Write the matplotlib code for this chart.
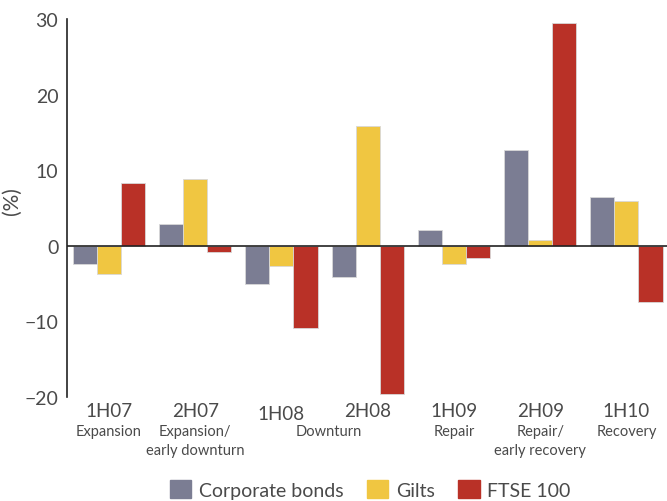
import numpy as np
import matplotlib.pyplot as plt
from matplotlib.patches import Patch

plt.rcParams['font.family'] = ['Lato', 'DejaVu Sans']

periods = ['1H07', '2H07', '1H08', '2H08', '1H09', '2H09', '1H10']
phases = ['Expansion', 'Expansion/\nearly downturn', '', '', 'Repair', 'Repair/\nearly recovery', 'Recovery']
corp_bonds = [-2.5, 2.9, -5.1, -4.2, 2.0, 12.6, 6.4]
gilts = [-3.8, 8.8, -2.7, 15.9, -2.5, 0.7, 5.9]
ftse = [8.3, -0.8, -10.9, -19.7, -1.6, 29.5, -7.5]

c_grey = '#7b7d93'
c_yellow = '#f0c641'
c_red = '#b93127'
txt = '#4a4a4a'

fig = plt.figure(figsize=(6.67, 5.02), dpi=100)
ax = fig.add_axes([0.1, 0.208, 0.9, 0.752])

x = np.arange(len(periods))
w = 0.279
for off, vals, col in [(-w, corp_bonds, c_grey), (0, gilts, c_yellow), (w, ftse, c_red)]:
    ax.bar(x + off, vals, w, color=col, edgecolor='#d8d8d8', linewidth=0.6, zorder=2)

ax.axhline(0, color='#222222', linewidth=1.2, zorder=3)
ax.set_xlim(-0.49, 6.47)
ax.set_ylim(-20, 30)
ax.set_yticks([-20, -10, 0, 10, 20, 30])
ax.tick_params(axis='y', length=0, labelsize=14, labelcolor=txt, pad=6)
ax.set_xticks([])
for s in ['top', 'right', 'bottom']:
    ax.spines[s].set_visible(False)
ax.spines['left'].set_color('#222222')
ax.spines['left'].set_linewidth(1.2)
ax.set_ylabel('(%)', fontsize=15, color=txt)
ax.yaxis.set_label_coords(-0.075, 0.52)

trans = ax.get_xaxis_transform()
for i, (p, ph) in enumerate(zip(periods, phases)):
    dy = -0.046 if p == '1H08' else -0.037
    ax.text(i, dy, p, transform=trans, ha='center', va='center', fontsize=13.5,
            color=txt)
    if ph:
        ax.text(i, -0.073, ph, transform=trans, ha='center', va='top', fontsize=10.5,
                color=txt, linespacing=1.4)
ax.text(2.55, -0.073, 'Downturn', transform=trans, ha='center', va='top', fontsize=10.5,
        color=txt)

handles = [Patch(color=c_grey, label='Corporate bonds'),
           Patch(color=c_yellow, label='Gilts'),
           Patch(color=c_red, label='FTSE 100')]
leg = fig.legend(handles=handles, loc='center', bbox_to_anchor=(0.555, 0.023), ncol=3,
                 frameon=False, fontsize=14, handlelength=1.1, handleheight=1.0,
                 handletextpad=0.4, columnspacing=1.2)
for t in leg.get_texts():
    t.set_color(txt)

fig.savefig('out.png', dpi=100)
